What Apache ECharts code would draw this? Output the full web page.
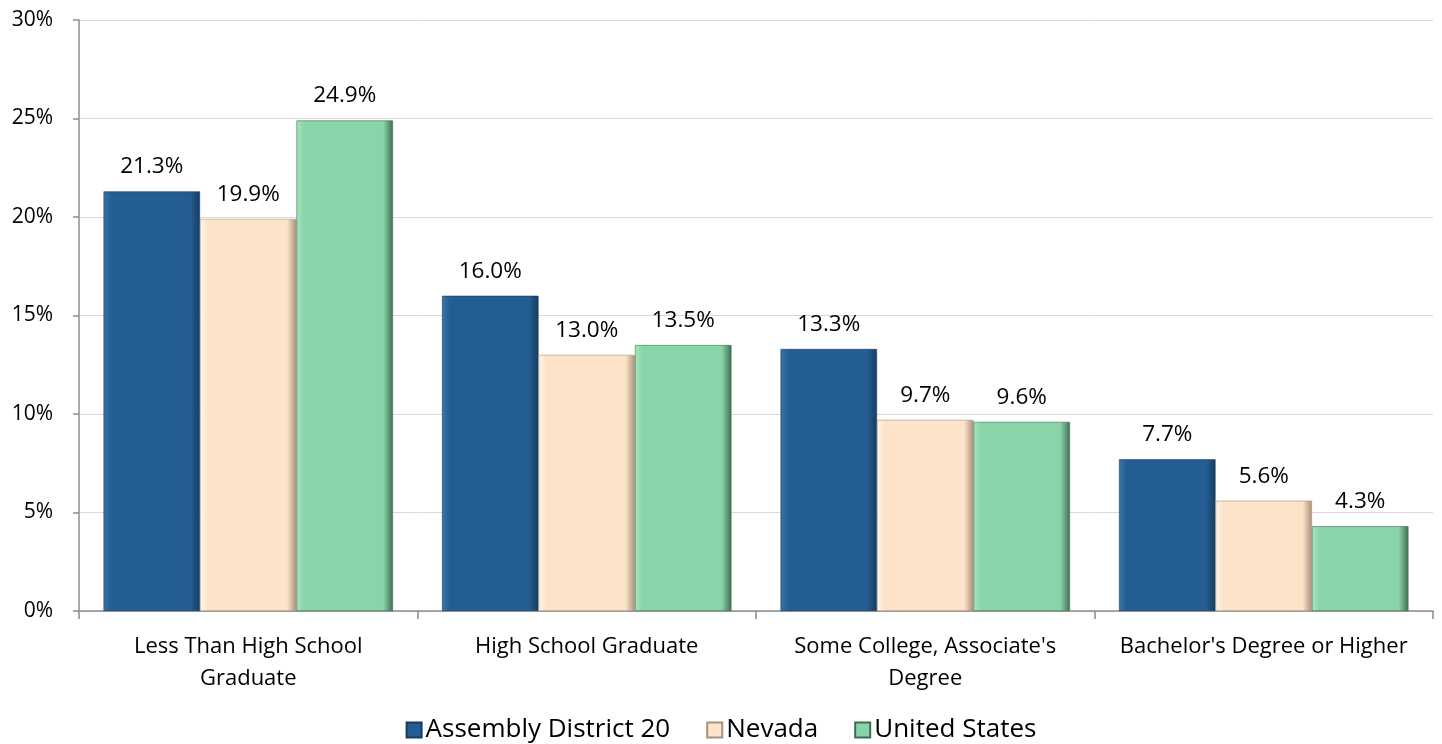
<!DOCTYPE html>
<html>
<head>
<meta charset="utf-8">
<script src="https://cdn.jsdelivr.net/npm/echarts@6/dist/echarts.min.js"></script>
<style>html,body{margin:0;padding:0;background:#fff}#c{width:1442px;height:744px}</style>
</head>
<body>
<div id="c"></div>
<script>
const categories = ["Less Than High School\nGraduate", "High School Graduate", "Some College, Associate's\nDegree", "Bachelor's Degree or Higher"];
const seriesNames = ["Assembly District 20", "Nevada", "United States"];
const district20 = [21.3, 16.0, 13.3, 7.7];
const nevada = [19.9, 13.0, 9.7, 5.6];
const unitedStates = [24.9, 13.5, 9.6, 4.3];
const yTicks = [0, 5, 10, 15, 20, 25, 30];

const FONT = "'Open Sans', sans-serif";
const colors = [
  { base: '#245d91', light: '#3a74a8', dark: '#163d61' },
  { base: '#fde4c9', light: '#fff6ea', dark: '#a9917a' },
  { base: '#89d4a8', light: '#a6e6c0', dark: '#3e6e52' }
];
function grad(c) {
  return new echarts.graphic.LinearGradient(0, 0, 1, 0, [
    { offset: 0, color: c.light },
    { offset: 0.08, color: c.base },
    { offset: 0.9, color: c.base },
    { offset: 1, color: c.dark }
  ]);
}
const values = [district20, nevada, unitedStates];
const chart = echarts.init(document.getElementById('c'));
chart.setOption({
  animation: false,
  textStyle: { fontFamily: FONT },
  grid: { left: 79, right: 9, top: 20, bottom: 133, containLabel: false },
  legend: {
    top: 712,
    left: 'center',
    icon: 'rect',
    itemWidth: 15,
    itemHeight: 15,
    itemGap: 36,
    textStyle: { fontFamily: FONT, fontSize: 26, color: '#000', padding: [0, 0, 0, -1] },
    data: seriesNames
  },
  xAxis: {
    type: 'category',
    data: categories,
    axisLine: { lineStyle: { color: '#8c8c8c', width: 1.5 } },
    axisTick: { show: true, length: 8, lineStyle: { color: '#8c8c8c', width: 1.5 } },
    axisLabel: { fontFamily: FONT, fontSize: 22, color: '#000', margin: 20, lineHeight: 32, interval: 0 }
  },
  yAxis: {
    type: 'value',
    min: yTicks[0],
    max: yTicks[yTicks.length - 1],
    interval: 5,
    axisLine: { show: true, lineStyle: { color: '#8c8c8c', width: 1.5 } },
    axisTick: { show: true, length: 6, lineStyle: { color: '#8c8c8c', width: 1.5 } },
    splitLine: { lineStyle: { color: '#d9d9d9', width: 1 } },
    axisLabel: { fontFamily: FONT, fontSize: 21, color: '#000', margin: 26, formatter: '{value}%' }
  },
  series: seriesNames.map((name, i) => ({
    name: name,
    type: 'bar',
    data: values[i],
    barGap: '0%',
    barCategoryGap: '14.5%',
    itemStyle: { color: grad(colors[i]), borderColor: colors[i].dark, borderWidth: 0.6 },
    label: {
      show: true,
      position: 'top',
      distance: 13,
      fontFamily: FONT,
      fontSize: 22.5,
      color: '#000',
      formatter: p => p.value.toFixed(1) + '%'
    }
  }))
});
</script>
</body>
</html>
